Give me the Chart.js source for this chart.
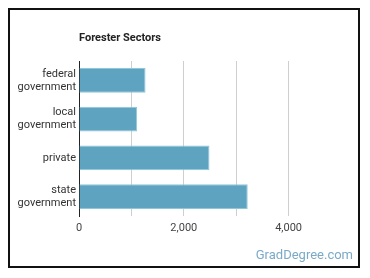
<!DOCTYPE html>
<html>
<head>
<meta charset="utf-8">
<script src="https://cdn.jsdelivr.net/npm/chart.js@4/dist/chart.umd.min.js"></script>
<style>
  html, body { margin: 0; padding: 0; background: #fff; }
  #wrap { position: relative; width: 370px; height: 278px; }
  #frame { position: absolute; left: 8px; top: 8px; width: 352px; height: 260px; box-sizing: border-box; border: 2px solid #111; }
  canvas { position: absolute; left: 0; top: 0; }
</style>
</head>
<body>
<div id="wrap">
  <div id="frame"></div>
  <canvas id="c" width="370" height="278"></canvas>
</div>
<script>
const categories = [["federal", "government"], ["local", "government"], ["private"], ["state", "government"]];
const values = [1270, 1110, 2490, 3220];
const tickLabels = ["0", "2,000", "4,000"];
const titleText = "Forester Sectors";
const watermark = "GradDegree.com";

const FONT = "Roboto, 'Noto Sans', sans-serif";

const textPlugin = {
  id: 'texts',
  afterDraw(chart) {
    const ctx = chart.ctx;
    ctx.save();
    ctx.fillStyle = '#222';
    ctx.font = 'bold 11px ' + FONT;
    ctx.textAlign = 'left';
    ctx.textBaseline = 'middle';
    ctx.fillText(titleText, chart.chartArea.left, 38);
    ctx.fillStyle = '#7aaac8';
    ctx.font = '13px ' + FONT;
    ctx.textAlign = 'right';
    ctx.fillText(watermark, 353, 256);
    ctx.restore();
  }
};

new Chart(document.getElementById('c'), {
  type: 'bar',
  data: {
    labels: categories,
    datasets: [{
      data: values,
      backgroundColor: '#5ea3c0',
      borderColor: '#8fc6dc',
      borderWidth: 1,
      categoryPercentage: 1,
      barPercentage: 0.64
    }]
  },
  options: {
    indexAxis: 'y',
    responsive: false,
    animation: false,
    layout: { padding: { top: 61, right: 29, left: 0, bottom: 0 } },
    plugins: { legend: { display: false }, tooltip: { enabled: false }, title: { display: false } },
    scales: {
      x: {
        min: 0, max: 5000,
        border: { display: false },
        grid: {
          drawTicks: false,
          color: (c) => (c.tick && (c.tick.value === 0 || c.tick.value === 5000)) ? 'rgba(0,0,0,0)' : '#cfcfcf',
          lineWidth: 1
        },
        ticks: {
          stepSize: 1000,
          padding: 6,
          color: '#444',
          font: { family: FONT, size: 11 },
          maxRotation: 0,
          autoSkip: false,
          callback: (v) => (v % 2000 === 0 && v < 5000) ? tickLabels[v / 2000] : ''
        },
        afterFit: (s) => { s.height = 62; }
      },
      y: {
        border: { display: true, color: '#222', width: 1 },
        grid: { display: false, drawTicks: false },
        ticks: {
          padding: 3,
          color: '#333',
          font: { family: FONT, size: 11, lineHeight: 1.2 }
        },
        afterFit: (s) => { s.width = 79; }
      }
    }
  },
  plugins: [textPlugin]
});
</script>
</body>
</html>
